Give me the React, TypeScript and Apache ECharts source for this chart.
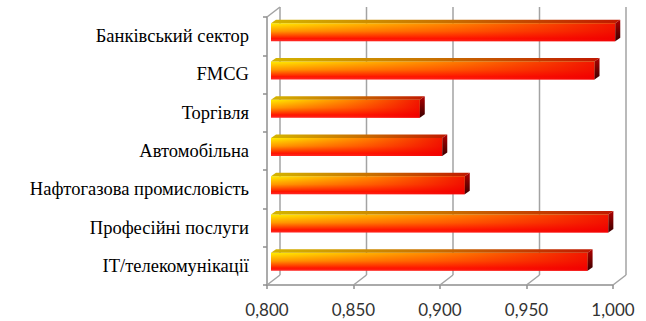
import React, { useEffect, useRef } from 'react';
import * as echarts from 'echarts';

const categories = [
  'Банківський сектор',
  'FMCG',
  'Торгівля',
  'Автомобільна',
  'Нафтогазова промисловість',
  'Професійні послуги',
  'IT/телекомунікації',
];
const values = [0.999, 0.987, 0.886, 0.899, 0.912, 0.995, 0.983];
const xTicks = [0.8, 0.85, 0.9, 0.95, 1.0];

const WALL_DX = 13;
const WALL_DY = -10;
const BAR_OFF_X = 4;
const BAR_OFF_Y = -4;
const BAR_H = 18;
const BAR_DX = 5;
const BAR_DY = -3.5;

export default function App() {
  const ref = useRef<HTMLDivElement>(null);
  useEffect(() => {
    if (!ref.current) return;
    const chart = echarts.init(ref.current, undefined, { renderer: 'svg' });
    const gridColor = '#a3a3a3';
    const option: any = {
      animation: false,
      backgroundColor: '#ffffff',
      grid: { left: 267, right: 33, top: 17, bottom: 36, containLabel: false },
      xAxis: {
        type: 'value',
        min: 0.8,
        max: 1.0,
        interval: 0.05,
        axisLine: { show: true, lineStyle: { color: '#8f8f8f', width: 1.5 } },
        axisTick: { show: true, length: 4, lineStyle: { color: '#8f8f8f', width: 1.5 } },
        splitLine: { show: false },
        axisLabel: {
          formatter: (v: number) => v.toFixed(3).replace('.', ','),
          fontFamily: 'Lato',
          fontSize: 17,
          lineHeight: 17,
          color: '#333333',
          margin: 16,
        },
      },
      yAxis: {
        type: 'category',
        data: categories,
        inverse: true,
        axisLine: { show: true, lineStyle: { color: '#8f8f8f', width: 1.5 } },
        axisTick: { show: true, length: 4, lineStyle: { color: '#8f8f8f', width: 1.5 } },
        axisLabel: {
          fontFamily: 'Liberation Serif',
          fontSize: 18.5,
          color: '#000000',
          margin: 18,
        },
        splitLine: { show: false },
      },
      series: [
        {
          type: 'custom',
          z: 1,
          silent: true,
          encode: { x: 0 },
          data: xTicks.map((t) => [t, 0]),
          renderItem: (params: any, api: any) => {
            const cs = params.coordSys;
            const v = api.value(0);
            const px = api.coord([v, 0])[0];
            const top = cs.y;
            const bottom = cs.y + cs.height;
            const children: any[] = [
              {
                type: 'line',
                shape: { x1: px + WALL_DX, y1: top + WALL_DY, x2: px + WALL_DX, y2: bottom + WALL_DY },
                style: { stroke: gridColor, lineWidth: 1.5 },
              },
              {
                type: 'line',
                shape: { x1: px, y1: bottom, x2: px + WALL_DX, y2: bottom + WALL_DY },
                style: { stroke: gridColor, lineWidth: 1.5 },
              },
            ];
            if (params.dataIndex === 0) {
              children.push({
                type: 'line',
                shape: { x1: cs.x, y1: top, x2: cs.x + WALL_DX, y2: top + WALL_DY },
                style: { stroke: gridColor, lineWidth: 1.5 },
              });
            }
            return { type: 'group', children };
          },
        },
        {
          type: 'custom',
          z: 5,
          encode: { x: 0, y: 1 },
          data: values.map((v, i) => [v, i]),
          renderItem: (params: any, api: any) => {
            const v = api.value(0);
            const idx = api.value(1);
            const start = api.coord([0.8, idx]);
            const end = api.coord([v, idx]);
            const x0 = start[0] + BAR_OFF_X;
            const x1 = end[0] + BAR_OFF_X;
            const yc = start[1] + BAR_OFF_Y;
            const top = yc - BAR_H / 2;
            const w = x1 - x0;
            return {
              type: 'group',
              children: [
                {
                  type: 'rect',
                  shape: { x: x0, y: top, width: w, height: BAR_H },
                  style: {
                    fill: new echarts.graphic.LinearGradient(0, 0, 0, 1, [
                      { offset: 0, color: '#ffee00' },
                      { offset: 0.45, color: '#ff9a00' },
                      { offset: 0.85, color: '#ff1500' },
                      { offset: 1, color: '#ff2a2a' },
                    ]),
                  },
                },
                {
                  type: 'rect',
                  shape: { x: x0, y: top, width: w, height: BAR_H },
                  style: {
                    fill: new echarts.graphic.LinearGradient(0, 0, 1, 0, [
                      { offset: 0, color: 'rgba(255,20,0,0)' },
                      { offset: 0.5, color: 'rgba(255,20,0,0.45)' },
                      { offset: 1, color: 'rgba(240,0,0,0.9)' },
                    ]),
                  },
                },
                {
                  type: 'polygon',
                  shape: {
                    points: [
                      [x0, top],
                      [x1, top],
                      [x1 + BAR_DX, top + BAR_DY],
                      [x0 + BAR_DX, top + BAR_DY],
                    ],
                  },
                  style: {
                    fill: new echarts.graphic.LinearGradient(0, 0, 1, 0, [
                      { offset: 0, color: '#d4b400' },
                      { offset: 0.5, color: '#c87000' },
                      { offset: 1, color: '#c01800' },
                    ]),
                  },
                },
                {
                  type: 'polygon',
                  shape: {
                    points: [
                      [x1, top],
                      [x1 + BAR_DX, top + BAR_DY],
                      [x1 + BAR_DX, top + BAR_H + BAR_DY],
                      [x1, top + BAR_H],
                    ],
                  },
                  style: {
                    fill: new echarts.graphic.LinearGradient(0, 0, 0, 1, [
                      { offset: 0, color: '#b00000' },
                      { offset: 1, color: '#3a0000' },
                    ]),
                  },
                },
              ],
            };
          },
        },
      ],
    };
    chart.setOption(option);
    return () => chart.dispose();
  }, []);
  return (
    <div
      ref={ref}
      style={{ position: 'absolute', left: 0, top: 0, width: 646, height: 321 }}
    />
  );
}
